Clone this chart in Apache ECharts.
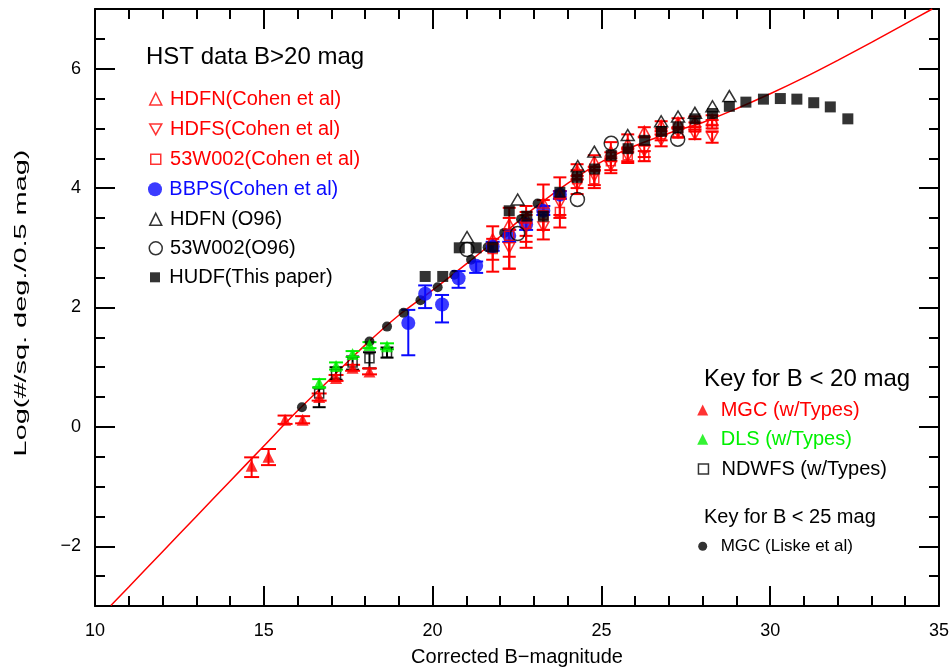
<!DOCTYPE html>
<html><head><meta charset="utf-8">
<script src="https://cdn.jsdelivr.net/npm/echarts@6/dist/echarts.min.js"></script>
<style>html,body{margin:0;padding:0;background:#fff}#c{width:951px;height:670px}</style>
</head><body><div id="c"></div>
<script>
// ---- data ----
const xTickValues = [10, 15, 20, 25, 30, 35];
const yTickValues = [-2, 0, 2, 4, 6];

// model curve
const modelX = [10.47, 11, 12, 13, 14, 15, 16, 17, 18, 19, 20, 21, 22, 23, 24, 25, 26, 27, 28, 29, 30, 31, 32, 33, 34, 34.8];
const modelY = [-2.99, -2.68, -2.09, -1.50, -0.91, -0.32, 0.27, 0.82, 1.37, 1.87, 2.29, 2.73, 3.19, 3.66, 4.08, 4.44, 4.71, 4.92, 5.10, 5.33, 5.58, 5.85, 6.14, 6.44, 6.75, 7.0];

// [mag, logN, low, high]
const mgcTypes = [[14.64,-0.65,-0.84,-0.51],[15.14,-0.50,-0.64,-0.37],[15.63,0.12,0.05,0.19],[16.15,0.12,0.06,0.18],[16.64,0.50,0.44,0.56],[17.14,0.82,0.77,0.87],[17.63,0.99,0.94,1.04],[18.13,0.93,0.88,0.98]];
const dlsTypes = [[16.64,0.73,0.66,0.80],[17.14,1.02,0.96,1.08],[17.63,1.22,1.17,1.27],[18.13,1.37,1.32,1.42],[18.65,1.35,1.30,1.40]];
const ndwfsTypes = [[16.64,0.56,0.33,0.66],[17.14,0.89,0.79,1.00],[17.63,1.08,0.96,1.18],[18.13,1.15,0.98,1.25],[18.65,1.24,1.16,1.33]];
const bbps = [[19.28,1.74,1.20,1.96],[19.78,2.23,1.99,2.37],[20.28,2.05,1.75,2.21],[20.77,2.49,2.33,2.61],[21.29,2.70,2.58,2.77],[21.78,3.02,2.95,3.10],[22.27,3.20,3.10,3.30],[22.77,3.39,3.30,3.47],[23.28,3.62,3.55,3.70],[23.77,3.89,3.82,3.95]];
const hdfnCohen = [[21.78,3.15,2.60,3.36],[22.27,3.40,2.65,3.67],[22.77,3.50,3.00,3.70],[23.28,3.75,3.30,4.06],[23.77,3.90,3.50,4.18],[24.28,4.30,4.15,4.40],[24.79,4.45,4.30,4.55],[25.28,4.62,4.45,4.77],[25.78,4.75,4.60,4.90],[26.27,4.95,4.85,5.02],[26.77,5.05,4.95,5.12],[27.27,5.10,5.00,5.17],[27.77,5.12,5.02,5.20],[28.28,5.15,5.05,5.22]];
const hdfsCohen = [[22.27,3.00,2.65,3.30],[22.77,3.35,3.10,3.55],[23.28,3.35,3.14,3.60],[23.77,3.75,3.55,3.95],[24.28,4.05,3.90,4.20],[24.79,4.20,4.05,4.35],[25.28,4.37,4.25,4.50],[25.78,4.53,4.42,4.65],[26.27,4.62,4.52,4.72],[26.77,4.80,4.70,4.90],[27.27,4.93,4.85,5.02],[27.77,4.90,4.82,4.98],[28.28,4.85,4.76,4.95]];
const w53Cohen = [[21.78,2.98,2.80,3.15],[22.27,3.20,2.85,3.50],[22.77,3.40,3.20,3.60],[23.28,3.55,3.30,3.80],[23.77,3.60,3.34,3.85],[24.28,4.15,4.00,4.30],[24.79,4.15,4.00,4.30],[25.28,4.45,4.30,4.60],[25.78,4.55,4.45,4.68],[26.27,4.53,4.45,4.62],[26.77,4.90,4.80,5.00],[27.27,4.92,4.85,5.00],[27.77,5.02,4.95,5.10],[28.28,5.07,5.00,5.14]];
// [mag, logN]
const liske = [[16.13,0.33],[18.13,1.43],[18.65,1.68],[19.14,1.91],[19.64,2.12],[20.15,2.34],[20.64,2.55],[21.14,2.80],[21.63,3.01],[22.12,3.25],[22.62,3.48],[23.11,3.74]];
const hdfnO96 = [[21.02,3.18],[22.52,3.81],[24.30,4.37],[24.79,4.61],[25.78,4.89],[26.77,5.12],[27.27,5.20],[27.77,5.26],[28.29,5.37],[28.79,5.54]];
const w53O96 = [[21.02,2.97],[22.52,3.24],[24.29,3.81],[25.29,4.75],[27.26,4.82]];
const hudf = [[19.78,2.52],[20.30,2.52],[20.79,3.00],[21.29,3.00],[21.78,3.01],[22.27,3.62],[22.79,3.53],[23.28,3.53],[23.77,3.93],[24.28,4.18],[24.80,4.32],[25.29,4.55],[25.79,4.66],[26.28,4.80],[26.78,4.95],[27.27,5.01],[27.77,5.16],[28.29,5.25],[28.79,5.37],[29.28,5.44],[29.80,5.49],[30.30,5.50],[30.79,5.49],[31.29,5.43],[31.78,5.36],[32.30,5.16]];

// ---- chart ----
const FONT = 'Liberation Sans';
const RED = '#ff0000', GREEN = '#00f000', BLUE = '#0a0aff', BLACK = '#000000';
const CLEAR = 'rgba(0,0,0,0)';
const downTri = 'path://M0,0L10,0L5,9Z';

function errSeries(name, rows, color, capW, lw) {
  return {
    type: 'custom', name: name, silent: true, clip: true,
    data: rows.map(r => [r[0], r[2], r[3]]),
    encode: { x: 0, y: [1, 2] },
    renderItem: function (params, api) {
      const x = api.value(0);
      const p1 = api.coord([x, api.value(1)]);
      const p2 = api.coord([x, api.value(2)]);
      const st = { stroke: color, lineWidth: lw };
      return { type: 'group', children: [
        { type: 'line', shape: { x1: p1[0], y1: p1[1], x2: p2[0], y2: p2[1] }, style: st },
        { type: 'line', shape: { x1: p1[0] - capW / 2, y1: p1[1], x2: p1[0] + capW / 2, y2: p1[1] }, style: st },
        { type: 'line', shape: { x1: p2[0] - capW / 2, y1: p2[1], x2: p2[0] + capW / 2, y2: p2[1] }, style: st }
      ]};
    }
  };
}
function scat(name, rows, symbol, size, style) {
  return { type: 'scatter', name: name, data: rows.map(r => [r[0], r[1]]), symbol: symbol, symbolSize: size,
    itemStyle: style, silent: true, emphasis: { disabled: true } };
}
// icon centred at cx, text starting at tx, row centred at cy, icon size s
function legendItem(name, cx, tx, cy, s, fs, color, style, icon) {
  const left = cx - s / 2;
  const pad = tx - (left + s + 5);
  const d = { name: name, icon: icon, textStyle: { color: color } };
  return { left: left, top: cy - 12, orient: 'vertical', padding: 0, itemWidth: s, itemHeight: s, selectedMode: false,
    itemStyle: style, data: [d],
    textStyle: { fontFamily: FONT, fontSize: fs, color: color, lineHeight: 24, padding: [0, 0, 0, pad] } };
}

const axisLineSt = { color: BLACK, width: 2 };
const tickSt = { color: BLACK, width: 2 };
const fmtY = v => (Math.abs(v % 2) < 1e-6 && v > -3 && v < 7) ? String(v).replace('-', '\u2212') : '';

const openBlack = { color: CLEAR, borderColor: BLACK, borderWidth: 1.5 };
const openRed = { color: CLEAR, borderColor: RED, borderWidth: 1.5 };

const L1X = 155, L1T = 169.3, L2X = 702.7, L2T = 720.7;
const option = {
  animation: false,
  backgroundColor: '#ffffff',
  grid: { left: 95, right: 12, top: 9, bottom: 64, outerBoundsMode: 'none' },
  title: [
    { text: 'HST data B>20 mag', left: 146, top: 43.5, padding: 0, textStyle: { fontFamily: FONT, fontSize: 24, fontWeight: 'normal', color: BLACK, lineHeight: 28 } },
    { text: 'Key for B < 20 mag', left: 704, top: 365.5, padding: 0, textStyle: { fontFamily: FONT, fontSize: 24, fontWeight: 'normal', color: BLACK, lineHeight: 28 } },
    { text: 'Key for B < 25 mag', left: 704, top: 505.7, padding: 0, textStyle: { fontFamily: FONT, fontSize: 20, fontWeight: 'normal', color: BLACK, lineHeight: 24 } }
  ],
  graphic: [
    { type: 'text', x: 21, y: 303, rotation: Math.PI / 2, scaleX: 1.7, scaleY: 1, silent: true,
      style: { text: 'Log(#/sq. deg./0.5 mag)', font: '17px "Liberation Sans"', fill: BLACK, align: 'center', verticalAlign: 'middle' } }
  ],
  legend: [
    legendItem('HDFN(Cohen et al)', L1X, L1T, 99, 12, 20, RED, openRed, 'triangle'),
    legendItem('HDFS(Cohen et al)', L1X, L1T, 129.3, 12, 20, RED, openRed, downTri),
    legendItem('53W002(Cohen et al)', L1X, L1T, 159.3, 10, 20, RED, openRed, 'rect'),
    legendItem('BBPS(Cohen et al)', L1X, L1T, 189.3, 14, 20, BLUE, { color: BLUE, borderWidth: 0 }, 'circle'),
    legendItem('HDFN (O96)', L1X, L1T, 219.3, 12, 20, BLACK, openBlack, 'triangle'),
    legendItem('53W002(O96)', L1X, L1T, 248.3, 13, 20, BLACK, openBlack, 'circle'),
    legendItem('HUDF(This paper)', L1X, L1T, 277.3, 10, 20, BLACK, { color: BLACK, borderWidth: 0 }, 'rect'),
    legendItem('MGC (w/Types)', L2X, L2T, 410, 11, 20, RED, { color: RED, borderWidth: 0 }, 'triangle'),
    legendItem('DLS (w/Types)', L2X, L2T, 439.3, 11, 20, GREEN, { color: GREEN, borderWidth: 0 }, 'triangle'),
    legendItem('NDWFS (w/Types)', L2X, L2T, 469, 10, 20, BLACK, openBlack, 'rect'),
    legendItem('MGC (Liske et al)', L2X, L2T, 546.3, 9, 17, BLACK, { color: BLACK, borderWidth: 0 }, 'circle')
  ],
  xAxis: [
    { type: 'value', position: 'bottom', min: 10, max: 35, interval: 5,
      axisLine: { show: true, onZero: false, lineStyle: axisLineSt },
      axisTick: { show: true, inside: true, length: 20, lineStyle: tickSt },
      minorTick: { show: true, splitNumber: 5, length: 10, lineStyle: tickSt },
      splitLine: { show: false },
      axisLabel: { fontFamily: FONT, fontSize: 18, color: BLACK, margin: 16 },
      name: 'Corrected B\u2212magnitude', nameLocation: 'middle', nameGap: 41,
      nameTextStyle: { fontFamily: FONT, fontSize: 20, color: BLACK } },
    { type: 'value', position: 'top', min: 10, max: 35, interval: 5,
      axisLine: { show: true, onZero: false, lineStyle: axisLineSt },
      axisTick: { show: true, inside: true, length: 20, lineStyle: tickSt },
      minorTick: { show: true, splitNumber: 5, length: 10, lineStyle: tickSt },
      splitLine: { show: false }, axisLabel: { show: false } }
  ],
  yAxis: [
    { type: 'value', position: 'left', min: -3, max: 7, interval: 0.5,
      axisLine: { show: true, onZero: false, lineStyle: axisLineSt },
      axisTick: { show: true, inside: true, length: 10, lineStyle: tickSt },
      splitLine: { show: false },
      axisLabel: { fontFamily: FONT, fontSize: 18, color: BLACK, margin: 14, formatter: fmtY } },
    { type: 'value', position: 'left', min: -3, max: 7,
      axisLine: { show: false },
      axisTick: { show: true, inside: true, length: 20, lineStyle: tickSt, customValues: yTickValues },
      splitLine: { show: false }, axisLabel: { show: false } },
    { type: 'value', position: 'right', min: -3, max: 7, interval: 0.5,
      axisLine: { show: true, onZero: false, lineStyle: axisLineSt },
      axisTick: { show: true, inside: true, length: 10, lineStyle: tickSt },
      splitLine: { show: false }, axisLabel: { show: false } },
    { type: 'value', position: 'right', min: -3, max: 7,
      axisLine: { show: false },
      axisTick: { show: true, inside: true, length: 20, lineStyle: tickSt, customValues: yTickValues },
      splitLine: { show: false }, axisLabel: { show: false } }
  ],
  series: [
    { type: 'line', name: 'model', data: modelX.map((x, i) => [x, modelY[i]]), symbol: 'none', smooth: 0.3,
      lineStyle: { color: RED, width: 1.5 }, silent: true, clip: true, z: 1 },
    scat('MGC (Liske et al)', liske, 'circle', 10, { color: BLACK }),
    errSeries('ndwfsErr', ndwfsTypes, BLACK, 13, 2),
    scat('NDWFS (w/Types)', ndwfsTypes, 'rect', 9, openBlack),
    errSeries('mgcErr', mgcTypes, RED, 15, 2),
    scat('MGC (w/Types)', mgcTypes, 'triangle', 12, { color: RED }),
    errSeries('dlsErr', dlsTypes, GREEN, 14, 2),
    scat('DLS (w/Types)', dlsTypes, 'triangle', 12, { color: GREEN }),
    errSeries('bbpsErr', bbps, BLUE, 14, 2),
    scat('BBPS(Cohen et al)', bbps, 'circle', 14, { color: BLUE }),
    errSeries('w53Err', w53Cohen, RED, 13, 2),
    scat('53W002(Cohen et al)', w53Cohen, 'rect', 9, openRed),
    errSeries('hdfsErr', hdfsCohen, RED, 13, 2),
    scat('HDFS(Cohen et al)', hdfsCohen, downTri, [11, 10], openRed),
    errSeries('hdfnErr', hdfnCohen, RED, 13, 2),
    scat('HDFN(Cohen et al)', hdfnCohen, 'triangle', [11, 10], openRed),
    scat('HDFN (O96)', hdfnO96, 'triangle', [13, 11], openBlack),
    scat('53W002(O96)', w53O96, 'circle', 14, openBlack),
    scat('HUDF(This paper)', hudf, 'rect', 11, { color: BLACK })
  ]
};
const chart = echarts.init(document.getElementById('c'), null, { renderer: 'canvas' });
chart.setOption(option);
</script>
</body></html>
